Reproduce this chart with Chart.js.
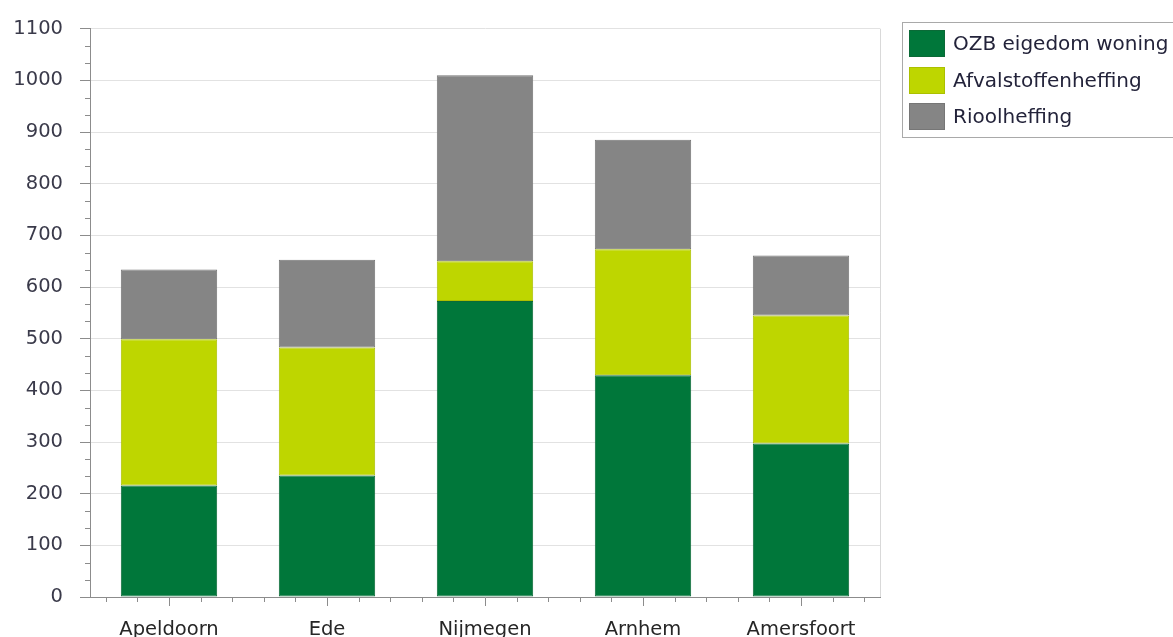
<!DOCTYPE html>
<html>
<head>
<meta charset="utf-8">
<script src="https://cdn.jsdelivr.net/npm/chart.js@4.4.0/dist/chart.umd.min.js"></script>
<style>
  body { margin: 0; background: #fff; }
  #wrap { position: relative; width: 1173px; height: 637px; overflow: hidden; }
  #legend { position: absolute; left: 902px; top: 22px; width: 300px; height: 114px;
            border: 1px solid #a9a9a9; font-family: "DejaVu Sans"; font-size: 20px; color: #23233a; }
  .item { position: absolute; left: 6px; height: 27px; line-height: 27px; white-space: nowrap; }
  .swatch { display: inline-block; width: 34px; height: 25px; border: 1px solid; vertical-align: top; margin-right: 8px; }
</style>
</head>
<body>
<div id="wrap">
  <canvas id="chart" width="1173" height="637"></canvas>
  <div id="legend"></div>
</div>
<script>
// gemeenten (categories)
const gemeenten = ['Apeldoorn', 'Ede', 'Nijmegen', 'Arnhem', 'Amersfoort'];
// series values, euro per woning
const ozbWoning = [216, 235, 573, 429, 297];
const afvalstoffen = [283, 248, 77, 244, 248];
const rioolheffing = [135, 170, 360, 212, 116];
const seriesNames = ['OZB eigedom woning', 'Afvalstoffenheffing', 'Rioolheffing'];
// y axis
const yMax = 1100;
const yStep = 100;

const fills = ['#00773a', '#bed600', '#858585'];
const borders = ['#0b6a37', '#abc000', '#767676'];
const seriesData = [ozbWoning, afvalstoffen, rioolheffing];

// small extra marks: minor ticks on both axes and the right frame line
const extraLines = {
  id: 'extraLines',
  afterDraw(chart) {
    const { ctx, chartArea: a, scales: { x, y } } = chart;
    ctx.save();
    ctx.lineWidth = 1;
    ctx.strokeStyle = '#d9d9d9';
    ctx.beginPath();
    ctx.moveTo(Math.round(a.right) + 0.5, a.top);
    ctx.lineTo(Math.round(a.right) + 0.5, a.bottom);
    ctx.stroke();

    ctx.strokeStyle = '#8c8c8c';
    ctx.beginPath();
    for (let v = 0; v < yMax; v += yStep) {
      for (let k = 1; k < 3; k++) {
        const py = Math.round(y.getPixelForValue(v + k * yStep / 3)) + 0.5;
        ctx.moveTo(a.left - 5, py);
        ctx.lineTo(a.left, py);
      }
    }
    const step = (x.getPixelForValue(1) - x.getPixelForValue(0)) / 5;
    gemeenten.forEach((g, i) => {
      const c = x.getPixelForValue(i);
      [-2, -1, 1, 2].forEach(k => {
        const px = Math.round(c + k * step) + 0.5;
        ctx.moveTo(px, a.bottom);
        ctx.lineTo(px, a.bottom + 5);
      });
    });
    ctx.stroke();
    ctx.restore();
  }
};

const ctx = document.getElementById('chart').getContext('2d');
new Chart(ctx, {
  type: 'bar',
  data: {
    labels: gemeenten,
    datasets: seriesNames.map((name, i) => ({
      label: name,
      data: seriesData[i],
      backgroundColor: fills[i],
      borderColor: borders[i],
      borderWidth: 1,
      borderSkipped: false,
      barPercentage: 0.61,
      categoryPercentage: 1
    }))
  },
  options: {
    responsive: false,
    devicePixelRatio: 1,
    animation: false,
    layout: { padding: { top: 28, right: 293, bottom: 0, left: 0 } },
    plugins: { legend: { display: false }, tooltip: { enabled: false } },
    scales: {
      x: {
        stacked: true,
        afterFit: scale => { scale.height = 40; },
        grid: { offset: false, drawOnChartArea: false, tickLength: 9, tickColor: '#8c8c8c' },
        border: { color: '#8c8c8c' },
        ticks: { font: { family: 'DejaVu Sans', size: 19.5 }, color: '#262626', padding: 12 }
      },
      y: {
        stacked: true,
        min: 0,
        max: yMax,
        afterFit: scale => { scale.width = 90; },
        grid: { color: '#e2e2e2', tickColor: '#8c8c8c', tickLength: 10 },
        border: { color: '#8c8c8c' },
        ticks: {
          stepSize: yStep,
          callback: v => String(v),
          font: { family: 'DejaVu Sans', size: 19.5 },
          color: '#3a3a4a',
          padding: 17
        }
      }
    }
  },
  plugins: [extraLines]
});

// legend as html, built from the series
const legend = document.getElementById('legend');
seriesNames.forEach((name, i) => {
  const item = document.createElement('div');
  item.className = 'item';
  item.style.top = (7 + i * 36.5) + 'px';
  const sw = document.createElement('span');
  sw.className = 'swatch';
  sw.style.background = fills[i];
  sw.style.borderColor = borders[i];
  item.appendChild(sw);
  item.appendChild(document.createTextNode(name));
  legend.appendChild(item);
});
</script>
</body>
</html>
